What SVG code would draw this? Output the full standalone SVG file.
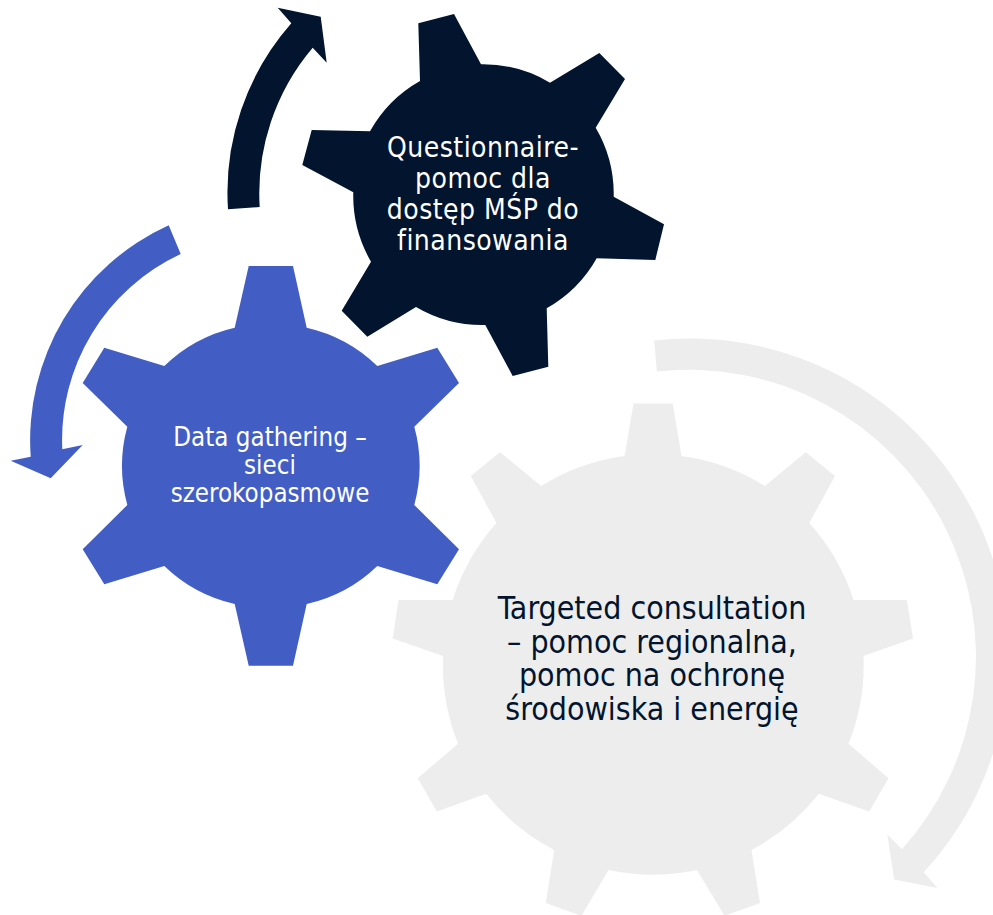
<svg xmlns="http://www.w3.org/2000/svg" width="993" height="915" viewBox="0 0 993 915">
<style>
.dark{fill:#02142e}.blue{fill:#425ec4}.grey{fill:#ededed}
text{font-family:"DejaVu Sans",sans-serif;font-stretch:condensed;text-anchor:middle}
.w{fill:#fff}.d{fill:#02142e}
.t1{font-size:28px;letter-spacing:.47px}.t2{font-size:25.7px}.t3{font-size:31.8px}
</style>
<rect width="993" height="915" fill="#fff"/>
<g id="connectors">
<path class="dark" d="M228,209.3 A256,256 0 0 1 291.3,23.3 L277.7,7.7 L320.7,16.7 L326.7,62.7 L312.7,47.7 A225,225 0 0 0 259.7,207 Z"/>
<path class="blue" d="M168.7,225.3 A236,236 0 0 0 30.7,456.7 L10.7,460.7 L50.7,478.3 L82.7,445 L62.3,449.3 A205,205 0 0 1 180.7,254 Z"/>
<path class="grey" d="M654.2,340.5 A318,318 0 0 1 923.8,872.2 L937.3,888 L894.2,879.6 L887.3,834.4 L901.9,849.2 A287,287 0 0 0 656.9,371.6 Z"/>
</g>
<g id="node-targeted">
<path class="grey" d="M633.5,403.4 L672.7,403.4 L681.5,456 A211,211 0 0 1 765,486 L805.8,452.3 L835,476 L809.2,523 A211,211 0 0 1 853.5,599.9 L906.9,599.9 L913,638.4 L863.5,656 A211,211 0 0 1 848.5,743.8 L888.5,778.2 L869.2,811.5 L818.8,793.8 A211,211 0 0 1 751.5,850 L760,902.9 L724.6,915.8 L696.9,870 A211,211 0 0 1 608.5,870 L581.5,915.8 L545.8,902.9 L554.2,850 A211,211 0 0 1 486.2,793.8 L436.9,811.5 L417.7,778.2 L458.1,743.8 A211,211 0 0 1 443.1,656 L392.7,638.4 L398.5,599.9 L452.7,599.9 A211,211 0 0 1 496.5,523 L470.8,476 L500,452.3 L541.2,486 A211,211 0 0 1 624.6,456 Z"/>
<text class="t3 d" x="652" y="618.5">Targeted consultation</text>
<text class="t3 d" x="652" y="652.5">– pomoc regionalna,</text>
<text class="t3 d" x="652" y="686">pomoc na ochronę</text>
<text class="t3 d" x="652" y="720">środowiska i energię</text>
</g>
<g id="node-data">
<path class="blue" d="M248.7,266 L293,266 L306.7,327.7 A148,148 0 0 1 377.3,366 L437.3,347.7 L459,383 L414.3,426.7 A148,148 0 0 1 414.3,505 L459,549.3 L437.3,584.3 L377.3,566 A148,148 0 0 1 306.7,604 L293,665.7 L248.7,665.7 L234.7,604 A148,148 0 0 1 164.3,566 L104.3,584.3 L82.7,549.3 L127.3,505 A148,148 0 0 1 127.3,426.7 L82.7,383 L104.3,347.7 L164.3,366 A148,148 0 0 1 234.7,327.7 Z"/>
<text class="t2 w" x="270" y="446">Data gathering –</text>
<text class="t2 w" x="270" y="474">sieci</text>
<text class="t2 w" x="270" y="502">szerokopasmowe</text>
</g>
<g id="node-questionnaire">
<path class="dark" d="M418.3,23.3 L454,14 L481,64.3 A131,131 0 0 1 550,82.7 L599.3,53 L625,79 L595.7,127.7 A131,131 0 0 1 613.7,196.7 L664,224.3 L655.3,260 L596.7,258.3 A131,131 0 0 1 546.7,308.3 L548.3,366.7 L512.7,376 L485.3,325 A131,131 0 0 1 416,307 L367.3,336.7 L341.7,310.7 L371,261.7 A131,131 0 0 1 353.3,192.3 L302.3,165 L311.7,130 L370,131.3 A131,131 0 0 1 420,81 Z"/>
<text class="t1 w" x="483" y="157">Questionnaire-</text>
<text class="t1 w" x="483" y="188">pomoc dla</text>
<text class="t1 w" x="483" y="219">dostęp MŚP do</text>
<text class="t1 w" x="483" y="250">finansowania</text>
</g>
</svg>
